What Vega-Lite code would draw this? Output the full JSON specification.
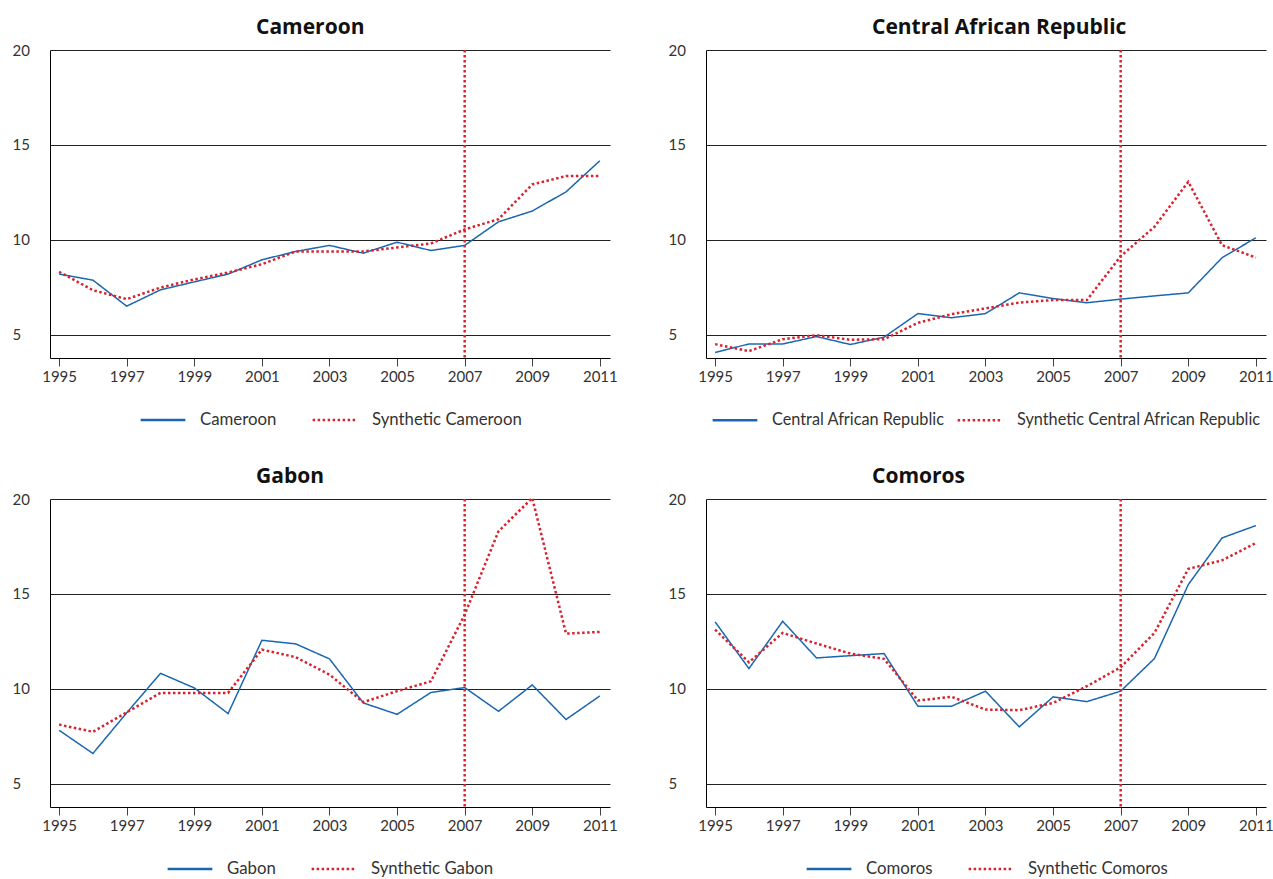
{
  "$schema": "https://vega.github.io/schema/vega-lite/v6.json",
  "padding": {"left": 12, "top": 17, "right": 5, "bottom": 5},
  "background": "white",
  "datasets": {
    "gdp": [
      {"country":"Cameroon","series":"Cameroon","year":1995,"value":8.2},
      {"country":"Cameroon","series":"Cameroon","year":1996,"value":7.88},
      {"country":"Cameroon","series":"Cameroon","year":1997,"value":6.51},
      {"country":"Cameroon","series":"Cameroon","year":1998,"value":7.37},
      {"country":"Cameroon","series":"Cameroon","year":1999,"value":7.79},
      {"country":"Cameroon","series":"Cameroon","year":2000,"value":8.2},
      {"country":"Cameroon","series":"Cameroon","year":2001,"value":8.95},
      {"country":"Cameroon","series":"Cameroon","year":2002,"value":9.39},
      {"country":"Cameroon","series":"Cameroon","year":2003,"value":9.71},
      {"country":"Cameroon","series":"Cameroon","year":2004,"value":9.3},
      {"country":"Cameroon","series":"Cameroon","year":2005,"value":9.88},
      {"country":"Cameroon","series":"Cameroon","year":2006,"value":9.44},
      {"country":"Cameroon","series":"Cameroon","year":2007,"value":9.71},
      {"country":"Cameroon","series":"Cameroon","year":2008,"value":10.95},
      {"country":"Cameroon","series":"Cameroon","year":2009,"value":11.52},
      {"country":"Cameroon","series":"Cameroon","year":2010,"value":12.53},
      {"country":"Cameroon","series":"Cameroon","year":2011,"value":14.17},
      {"country":"Cameroon","series":"Synthetic Cameroon","year":1995,"value":8.32},
      {"country":"Cameroon","series":"Synthetic Cameroon","year":1996,"value":7.35},
      {"country":"Cameroon","series":"Synthetic Cameroon","year":1997,"value":6.88},
      {"country":"Cameroon","series":"Synthetic Cameroon","year":1998,"value":7.49},
      {"country":"Cameroon","series":"Synthetic Cameroon","year":1999,"value":7.92},
      {"country":"Cameroon","series":"Synthetic Cameroon","year":2000,"value":8.28},
      {"country":"Cameroon","series":"Synthetic Cameroon","year":2001,"value":8.72},
      {"country":"Cameroon","series":"Synthetic Cameroon","year":2002,"value":9.39},
      {"country":"Cameroon","series":"Synthetic Cameroon","year":2003,"value":9.39},
      {"country":"Cameroon","series":"Synthetic Cameroon","year":2004,"value":9.39},
      {"country":"Cameroon","series":"Synthetic Cameroon","year":2005,"value":9.6},
      {"country":"Cameroon","series":"Synthetic Cameroon","year":2006,"value":9.81},
      {"country":"Cameroon","series":"Synthetic Cameroon","year":2007,"value":10.55},
      {"country":"Cameroon","series":"Synthetic Cameroon","year":2008,"value":11.09},
      {"country":"Cameroon","series":"Synthetic Cameroon","year":2009,"value":12.92},
      {"country":"Cameroon","series":"Synthetic Cameroon","year":2010,"value":13.36},
      {"country":"Cameroon","series":"Synthetic Cameroon","year":2011,"value":13.36},
      {"country":"CAR","series":"Central African Republic","year":1995,"value":4.07},
      {"country":"CAR","series":"Central African Republic","year":1996,"value":4.52},
      {"country":"CAR","series":"Central African Republic","year":1997,"value":4.52},
      {"country":"CAR","series":"Central African Republic","year":1998,"value":4.91},
      {"country":"CAR","series":"Central African Republic","year":1999,"value":4.49},
      {"country":"CAR","series":"Central African Republic","year":2000,"value":4.88},
      {"country":"CAR","series":"Central African Republic","year":2001,"value":6.12},
      {"country":"CAR","series":"Central African Republic","year":2002,"value":5.9},
      {"country":"CAR","series":"Central African Republic","year":2003,"value":6.12},
      {"country":"CAR","series":"Central African Republic","year":2004,"value":7.21},
      {"country":"CAR","series":"Central African Republic","year":2005,"value":6.91},
      {"country":"CAR","series":"Central African Republic","year":2006,"value":6.69},
      {"country":"CAR","series":"Central African Republic","year":2007,"value":6.88},
      {"country":"CAR","series":"Central African Republic","year":2008,"value":7.05},
      {"country":"CAR","series":"Central African Republic","year":2009,"value":7.21},
      {"country":"CAR","series":"Central African Republic","year":2010,"value":9.06},
      {"country":"CAR","series":"Central African Republic","year":2011,"value":10.11},
      {"country":"CAR","series":"Synthetic Central African Republic","year":1995,"value":4.51},
      {"country":"CAR","series":"Synthetic Central African Republic","year":1996,"value":4.14},
      {"country":"CAR","series":"Synthetic Central African Republic","year":1997,"value":4.77},
      {"country":"CAR","series":"Synthetic Central African Republic","year":1998,"value":4.98},
      {"country":"CAR","series":"Synthetic Central African Republic","year":1999,"value":4.74},
      {"country":"CAR","series":"Synthetic Central African Republic","year":2000,"value":4.77},
      {"country":"CAR","series":"Synthetic Central African Republic","year":2001,"value":5.63},
      {"country":"CAR","series":"Synthetic Central African Republic","year":2002,"value":6.09},
      {"country":"CAR","series":"Synthetic Central African Republic","year":2003,"value":6.39},
      {"country":"CAR","series":"Synthetic Central African Republic","year":2004,"value":6.7},
      {"country":"CAR","series":"Synthetic Central African Republic","year":2005,"value":6.83},
      {"country":"CAR","series":"Synthetic Central African Republic","year":2006,"value":6.83},
      {"country":"CAR","series":"Synthetic Central African Republic","year":2007,"value":9.14},
      {"country":"CAR","series":"Synthetic Central African Republic","year":2008,"value":10.69},
      {"country":"CAR","series":"Synthetic Central African Republic","year":2009,"value":13.06},
      {"country":"CAR","series":"Synthetic Central African Republic","year":2010,"value":9.72},
      {"country":"CAR","series":"Synthetic Central African Republic","year":2011,"value":9.07},
      {"country":"Gabon","series":"Gabon","year":1995,"value":7.82},
      {"country":"Gabon","series":"Gabon","year":1996,"value":6.6},
      {"country":"Gabon","series":"Gabon","year":1997,"value":8.74},
      {"country":"Gabon","series":"Gabon","year":1998,"value":10.82},
      {"country":"Gabon","series":"Gabon","year":1999,"value":10.05},
      {"country":"Gabon","series":"Gabon","year":2000,"value":8.7},
      {"country":"Gabon","series":"Gabon","year":2001,"value":12.56},
      {"country":"Gabon","series":"Gabon","year":2002,"value":12.37},
      {"country":"Gabon","series":"Gabon","year":2003,"value":11.58},
      {"country":"Gabon","series":"Gabon","year":2004,"value":9.26},
      {"country":"Gabon","series":"Gabon","year":2005,"value":8.66},
      {"country":"Gabon","series":"Gabon","year":2006,"value":9.81},
      {"country":"Gabon","series":"Gabon","year":2007,"value":10.07},
      {"country":"Gabon","series":"Gabon","year":2008,"value":8.82},
      {"country":"Gabon","series":"Gabon","year":2009,"value":10.21},
      {"country":"Gabon","series":"Gabon","year":2010,"value":8.39},
      {"country":"Gabon","series":"Gabon","year":2011,"value":9.63},
      {"country":"Gabon","series":"Synthetic Gabon","year":1995,"value":8.12},
      {"country":"Gabon","series":"Synthetic Gabon","year":1996,"value":7.74},
      {"country":"Gabon","series":"Synthetic Gabon","year":1997,"value":8.77},
      {"country":"Gabon","series":"Synthetic Gabon","year":1998,"value":9.79},
      {"country":"Gabon","series":"Synthetic Gabon","year":1999,"value":9.79},
      {"country":"Gabon","series":"Synthetic Gabon","year":2000,"value":9.79},
      {"country":"Gabon","series":"Synthetic Gabon","year":2001,"value":12.07},
      {"country":"Gabon","series":"Synthetic Gabon","year":2002,"value":11.67},
      {"country":"Gabon","series":"Synthetic Gabon","year":2003,"value":10.75},
      {"country":"Gabon","series":"Synthetic Gabon","year":2004,"value":9.3},
      {"country":"Gabon","series":"Synthetic Gabon","year":2005,"value":9.88},
      {"country":"Gabon","series":"Synthetic Gabon","year":2006,"value":10.4},
      {"country":"Gabon","series":"Synthetic Gabon","year":2007,"value":13.91},
      {"country":"Gabon","series":"Synthetic Gabon","year":2008,"value":18.3},
      {"country":"Gabon","series":"Synthetic Gabon","year":2009,"value":20.05},
      {"country":"Gabon","series":"Synthetic Gabon","year":2010,"value":12.91},
      {"country":"Gabon","series":"Synthetic Gabon","year":2011,"value":13.0},
      {"country":"Comoros","series":"Comoros","year":1995,"value":13.53},
      {"country":"Comoros","series":"Comoros","year":1996,"value":11.07},
      {"country":"Comoros","series":"Comoros","year":1997,"value":13.56},
      {"country":"Comoros","series":"Comoros","year":1998,"value":11.63},
      {"country":"Comoros","series":"Comoros","year":1999,"value":11.75},
      {"country":"Comoros","series":"Comoros","year":2000,"value":11.86},
      {"country":"Comoros","series":"Comoros","year":2001,"value":9.09},
      {"country":"Comoros","series":"Comoros","year":2002,"value":9.09},
      {"country":"Comoros","series":"Comoros","year":2003,"value":9.88},
      {"country":"Comoros","series":"Comoros","year":2004,"value":8.0},
      {"country":"Comoros","series":"Comoros","year":2005,"value":9.58},
      {"country":"Comoros","series":"Comoros","year":2006,"value":9.33},
      {"country":"Comoros","series":"Comoros","year":2007,"value":9.88},
      {"country":"Comoros","series":"Comoros","year":2008,"value":11.6},
      {"country":"Comoros","series":"Comoros","year":2009,"value":15.49},
      {"country":"Comoros","series":"Comoros","year":2010,"value":17.95},
      {"country":"Comoros","series":"Comoros","year":2011,"value":18.6},
      {"country":"Comoros","series":"Synthetic Comoros","year":1995,"value":13.12},
      {"country":"Comoros","series":"Synthetic Comoros","year":1996,"value":11.4},
      {"country":"Comoros","series":"Synthetic Comoros","year":1997,"value":12.95},
      {"country":"Comoros","series":"Synthetic Comoros","year":1998,"value":12.39},
      {"country":"Comoros","series":"Synthetic Comoros","year":1999,"value":11.86},
      {"country":"Comoros","series":"Synthetic Comoros","year":2000,"value":11.58},
      {"country":"Comoros","series":"Synthetic Comoros","year":2001,"value":9.39},
      {"country":"Comoros","series":"Synthetic Comoros","year":2002,"value":9.58},
      {"country":"Comoros","series":"Synthetic Comoros","year":2003,"value":8.91},
      {"country":"Comoros","series":"Synthetic Comoros","year":2004,"value":8.88},
      {"country":"Comoros","series":"Synthetic Comoros","year":2005,"value":9.26},
      {"country":"Comoros","series":"Synthetic Comoros","year":2006,"value":10.14},
      {"country":"Comoros","series":"Synthetic Comoros","year":2007,"value":11.14},
      {"country":"Comoros","series":"Synthetic Comoros","year":2008,"value":12.95},
      {"country":"Comoros","series":"Synthetic Comoros","year":2009,"value":16.32},
      {"country":"Comoros","series":"Synthetic Comoros","year":2010,"value":16.77},
      {"country":"Comoros","series":"Synthetic Comoros","year":2011,"value":17.68}
    ],
    "treat": [{"year": 2007}]
  },
  "columns": 2,
  "bounds": "flush",
  "spacing": {"column": 96, "row": 141},
  "resolve": {
    "scale": {"color": "independent", "strokeDash": "independent", "x": "independent", "y": "independent"},
    "legend": {"color": "independent", "strokeDash": "independent"}
  },
  "concat": [
    {
      "title": {"text": "Cameroon", "dx": 244},
      "width": 560, "height": 308,
      "layer": [
        {
          "data": {"name": "gdp"},
          "transform": [{"filter": "datum.country === 'Cameroon'"}],
          "mark": {"type": "line", "clip": false},
          "encoding": {
            "x": {"field": "year", "type": "quantitative", "scale": {"domain": [1994.73, 2011.3], "nice": false, "zero": false}, "axis": {"values": [1995,1997,1999,2001,2003,2005,2007,2009,2011], "format": "d", "title": null}},
            "y": {"field": "value", "type": "quantitative", "scale": {"domain": [3.78, 20], "nice": false, "zero": false}, "axis": {"values": [5,10,15,20], "title": null}},
            "color": {"field": "series", "type": "nominal", "scale": {"domain": ["Cameroon", "Synthetic Cameroon"], "range": ["#1a67b0", "#d8232f"]}, "legend": {"title": null}},
            "strokeDash": {"field": "series", "type": "nominal", "scale": {"domain": ["Cameroon", "Synthetic Cameroon"], "range": [[1, 0], [2.5, 2.5]]}, "legend": {"title": null}},
            "strokeWidth": {"condition": {"test": "indexof(datum.series, 'Synthetic') === 0", "value": 2.5}, "value": 1.5}
          }
        },
        {
          "data": {"name": "treat"},
          "mark": {"type": "rule", "color": "#d8232f", "strokeDash": [2.5, 2.5], "strokeWidth": 2.5},
          "encoding": {"x": {"field": "year", "type": "quantitative"}}
        }
      ]
    },
    {
      "title": {"text": "Central African Republic", "dx": 204},
      "width": 560, "height": 308,
      "layer": [
        {
          "data": {"name": "gdp"},
          "transform": [{"filter": "datum.country === 'CAR'"}],
          "mark": {"type": "line", "clip": false},
          "encoding": {
            "x": {"field": "year", "type": "quantitative", "scale": {"domain": [1994.73, 2011.3], "nice": false, "zero": false}, "axis": {"values": [1995,1997,1999,2001,2003,2005,2007,2009,2011], "format": "d", "title": null}},
            "y": {"field": "value", "type": "quantitative", "scale": {"domain": [3.78, 20], "nice": false, "zero": false}, "axis": {"values": [5,10,15,20], "title": null}},
            "color": {"field": "series", "type": "nominal", "scale": {"domain": ["Central African Republic", "Synthetic Central African Republic"], "range": ["#1a67b0", "#d8232f"]}, "legend": {"title": null, "columnPadding": 7, "labelFontSize": 16.3}},
            "strokeDash": {"field": "series", "type": "nominal", "scale": {"domain": ["Central African Republic", "Synthetic Central African Republic"], "range": [[1, 0], [2.5, 2.5]]}, "legend": {"title": null, "columnPadding": 7, "labelFontSize": 16.3}},
            "strokeWidth": {"condition": {"test": "indexof(datum.series, 'Synthetic') === 0", "value": 2.5}, "value": 1.5}
          }
        },
        {
          "data": {"name": "treat"},
          "mark": {"type": "rule", "color": "#d8232f", "strokeDash": [2.5, 2.5], "strokeWidth": 2.5},
          "encoding": {"x": {"field": "year", "type": "quantitative"}}
        }
      ]
    },
    {
      "title": {"text": "Gabon", "dx": 244},
      "width": 560, "height": 308,
      "layer": [
        {
          "data": {"name": "gdp"},
          "transform": [{"filter": "datum.country === 'Gabon'"}],
          "mark": {"type": "line", "clip": false},
          "encoding": {
            "x": {"field": "year", "type": "quantitative", "scale": {"domain": [1994.73, 2011.3], "nice": false, "zero": false}, "axis": {"values": [1995,1997,1999,2001,2003,2005,2007,2009,2011], "format": "d", "title": null}},
            "y": {"field": "value", "type": "quantitative", "scale": {"domain": [3.78, 20], "nice": false, "zero": false}, "axis": {"values": [5,10,15,20], "title": null}},
            "color": {"field": "series", "type": "nominal", "scale": {"domain": ["Gabon", "Synthetic Gabon"], "range": ["#1a67b0", "#d8232f"]}, "legend": {"title": null}},
            "strokeDash": {"field": "series", "type": "nominal", "scale": {"domain": ["Gabon", "Synthetic Gabon"], "range": [[1, 0], [2.5, 2.5]]}, "legend": {"title": null}},
            "strokeWidth": {"condition": {"test": "indexof(datum.series, 'Synthetic') === 0", "value": 2.5}, "value": 1.5}
          }
        },
        {
          "data": {"name": "treat"},
          "mark": {"type": "rule", "color": "#d8232f", "strokeDash": [2.5, 2.5], "strokeWidth": 2.5},
          "encoding": {"x": {"field": "year", "type": "quantitative"}}
        }
      ]
    },
    {
      "title": {"text": "Comoros", "dx": 204},
      "width": 560, "height": 308,
      "layer": [
        {
          "data": {"name": "gdp"},
          "transform": [{"filter": "datum.country === 'Comoros'"}],
          "mark": {"type": "line", "clip": false},
          "encoding": {
            "x": {"field": "year", "type": "quantitative", "scale": {"domain": [1994.73, 2011.3], "nice": false, "zero": false}, "axis": {"values": [1995,1997,1999,2001,2003,2005,2007,2009,2011], "format": "d", "title": null}},
            "y": {"field": "value", "type": "quantitative", "scale": {"domain": [3.78, 20], "nice": false, "zero": false}, "axis": {"values": [5,10,15,20], "title": null}},
            "color": {"field": "series", "type": "nominal", "scale": {"domain": ["Comoros", "Synthetic Comoros"], "range": ["#1a67b0", "#d8232f"]}, "legend": {"title": null}},
            "strokeDash": {"field": "series", "type": "nominal", "scale": {"domain": ["Comoros", "Synthetic Comoros"], "range": [[1, 0], [2.5, 2.5]]}, "legend": {"title": null}},
            "strokeWidth": {"condition": {"test": "indexof(datum.series, 'Synthetic') === 0", "value": 2.5}, "value": 1.5}
          }
        },
        {
          "data": {"name": "treat"},
          "mark": {"type": "rule", "color": "#d8232f", "strokeDash": [2.5, 2.5], "strokeWidth": 2.5},
          "encoding": {"x": {"field": "year", "type": "quantitative"}}
        }
      ]
    }
  ],
  "config": {
    "view": {"stroke": null},
    "font": "Lato",
    "title": {"anchor": "start", "font": "Open Sans", "fontWeight": "bold", "fontSize": 21, "color": "#111111", "offset": 5},
    "axisX": {"grid": false, "domainColor": "#000000", "domainWidth": 1, "tickColor": "#444444", "tickSize": 8, "tickWidth": 1, "labelFontSize": 15, "labelColor": "#333333", "labelPadding": 3, "labelFont": "Lato"},
    "axisY": {"grid": true, "gridColor": "#222222", "gridWidth": 1, "gridOpacity": 1, "domainColor": "#000000", "domainWidth": 1, "ticks": false, "labelAlign": "left", "labelPadding": 38, "labelFontSize": 15, "labelColor": "#333333", "labelFont": "Lato"},
    "legend": {"orient": "bottom", "direction": "horizontal", "symbolType": "stroke", "symbolSize": 2000, "symbolStrokeWidth": 2.5, "labelFontSize": 16.8, "labelFont": "Lato", "labelColor": "#333333", "labelLimit": 0, "columnPadding": 30, "labelOffset": 13, "offset": 12, "layout": {"bottom": {"anchor": "middle"}}}
  }
}
